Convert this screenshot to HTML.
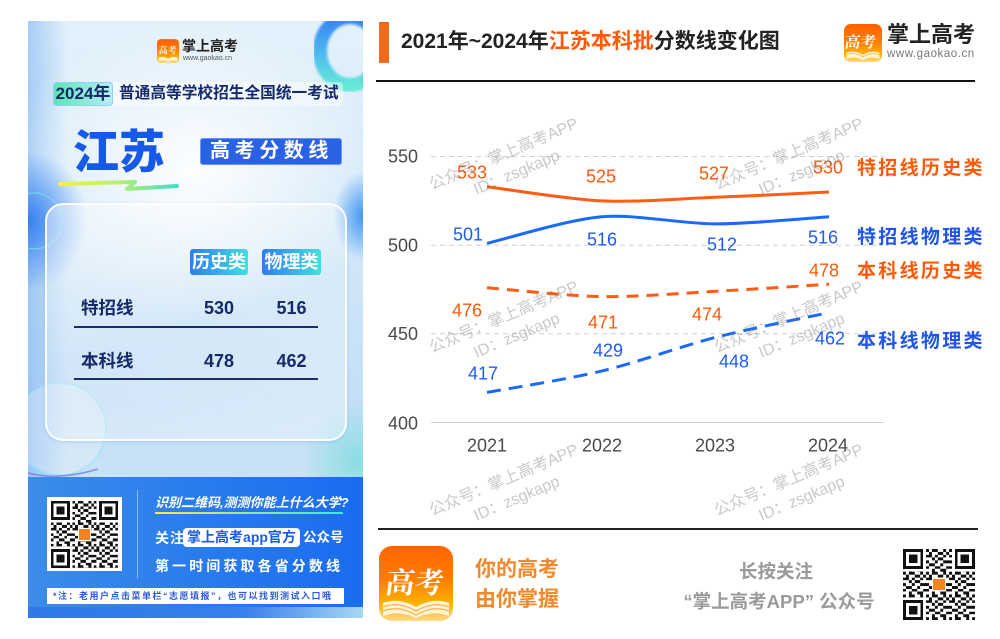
<!DOCTYPE html>
<html><head><meta charset="utf-8">
<style>
*{margin:0;padding:0;box-sizing:border-box}
body{width:1000px;height:639px;background:#fff;position:relative;overflow:hidden;font-family:"Liberation Sans","Noto Sans CJK SC",sans-serif}
.a{position:absolute;white-space:nowrap}
.panel{position:absolute;left:28px;top:21px;width:335px;height:597px;overflow:hidden;
background:
radial-gradient(ellipse 60px 70px at 0px 200px, rgba(40,120,240,0.9), rgba(40,120,240,0) 100%),
radial-gradient(ellipse 30px 45px at 335px 195px, rgba(50,140,245,0.9), rgba(50,140,245,0) 100%),
radial-gradient(ellipse 55px 60px at 330px 440px, rgba(90,220,210,0.55), rgba(90,220,210,0) 100%),
radial-gradient(ellipse 190px 150px at 165px 150px, rgba(255,255,255,0.95), rgba(255,255,255,0) 100%),
linear-gradient(90deg, rgba(110,170,240,0.5) 0px, rgba(110,170,240,0) 40px),
linear-gradient(180deg,#e3f1fb 0%,#d2e8f8 35%,#c4def6 65%,#d0e9f6 100%);}
.t{font-weight:bold;color:#16296a}
</style></head><body>

<div class="panel">
<svg width="335" height="597" style="position:absolute;left:0;top:0">
<defs>
<linearGradient id="rg" x1="0" y1="0" x2="0" y2="1"><stop offset="0" stop-color="#2f7cf0"/><stop offset="0.55" stop-color="#45b8f2"/><stop offset="1" stop-color="#5ee8d6"/></linearGradient>
<filter id="bl"><feGaussianBlur stdDeviation="1.2"/></filter>
</defs>
<ellipse cx="322" cy="30" rx="30" ry="34" fill="none" stroke="url(#rg)" stroke-width="14" opacity="0.95" filter="url(#bl)"/>
<circle cx="32" cy="408" r="46" fill="rgba(255,255,255,0.25)" stroke="rgba(150,230,240,0.7)" stroke-width="1.5"/>
<path d="M0 452 Q30 460 70 448" fill="none" stroke="#6a6ae8" stroke-width="1.5" opacity="0.7"/>
<circle cx="6" cy="200" r="28" fill="none" stroke="rgba(120,230,240,0.7)" stroke-width="1.2"/>
</svg>
</div>

<!-- left logo -->
<svg class="a" style="left:157px;top:39px" width="22" height="24" viewBox="0 0 74 80">
<defs><linearGradient id="ig1" x1="0" y1="0" x2="0" y2="1"><stop offset="0" stop-color="#ff6000"/><stop offset="0.5" stop-color="#ff8000"/><stop offset="0.85" stop-color="#ffb800"/><stop offset="1" stop-color="#ffd98a"/></linearGradient></defs>
<rect width="74" height="80" rx="13" fill="url(#ig1)"/>
<text x="6" y="48" font-family="Noto Serif CJK SC,serif" font-weight="bold" font-size="30" fill="#fff">高考</text>
<path d="M5 62 Q20 56 37 66 Q54 56 69 62 L69 74 Q54 68 37 76 Q20 68 5 74 Z" fill="#fff4d8"/>
</svg>
<div class="a" style="left:182px;top:39px;font-size:14px;line-height:15px;font-weight:bold;color:#1e1e1e">掌上高考</div>
<div class="a" style="left:183px;top:55px;font-size:7px;line-height:7px;color:#555">www.gaokao.cn</div>

<!-- 2024 badge -->
<div class="a" style="left:113px;top:82px;width:230px;height:24px;background:rgba(255,255,255,0.45);border-radius:0 4px 4px 0"></div>
<div class="a t" style="left:53px;top:82px;width:60px;height:24px;border:1px solid #8fd3f0;border-radius:4px;background:linear-gradient(90deg,#5ce6b6,#b8ecf8);font-size:17px;line-height:22px;text-align:center">2024年</div>
<div class="a t" style="left:119px;top:86px;font-size:15.7px;line-height:16px">普通高等学校招生全国统一考试</div>

<!-- 江苏 -->
<div class="a" style="left:73px;top:129px;font-size:46px;line-height:46px;font-weight:900;color:#1658e8">江苏</div>
<svg class="a" style="left:55px;top:176px" width="130" height="20">
<defs><linearGradient id="sw" x1="0" x2="1"><stop offset="0" stop-color="#f2f040"/><stop offset="0.5" stop-color="#b8f070"/><stop offset="1" stop-color="#40e0c8"/></linearGradient></defs>
<path d="M5 8 L80 6 L72 13 L122 10" fill="none" stroke="url(#sw)" stroke-width="4" stroke-linejoin="round" stroke-linecap="round"/>
</svg>
<div class="a" style="left:200px;top:138px;width:142px;height:27px;background:#2a62e6;border:1px solid #6d95f0;border-radius:3px"></div>
<div class="a" style="left:210px;top:141px;font-size:20px;line-height:21px;font-weight:bold;color:#fff;letter-spacing:4.6px">高考分数线</div>

<!-- card -->
<div class="a" style="left:45px;top:203px;width:302px;height:238px;border:2px solid rgba(255,255,255,0.92);border-radius:18px;background:linear-gradient(160deg,rgba(255,255,255,0.45),rgba(255,255,255,0.2) 50%,rgba(255,255,255,0.4));box-shadow:0 1px 3px rgba(80,140,220,0.25)"></div>
<div class="a" style="left:190px;top:249px;width:58px;height:26px;border-radius:3px;background:linear-gradient(90deg,#2f7cf2,#40e0e0);color:#fff;font-weight:bold;font-size:18px;line-height:26px;text-align:center">历史类</div>
<div class="a" style="left:262px;top:249px;width:59px;height:26px;border-radius:3px;background:linear-gradient(90deg,#2f7cf2,#40e0e0);color:#fff;font-weight:bold;font-size:18px;line-height:26px;text-align:center">物理类</div>

<div class="a t" style="left:81px;top:299px;font-size:17.5px;line-height:18px">特招线</div>
<div class="a t" style="left:189px;top:299px;width:60px;text-align:center;font-size:18px;line-height:18px">530</div>
<div class="a t" style="left:262px;top:299px;width:59px;text-align:center;font-size:18px;line-height:18px">516</div>
<div class="a" style="left:74px;top:326px;width:244px;height:2px;background:#1a2c6a"></div>
<div class="a t" style="left:81px;top:352px;font-size:17.5px;line-height:18px">本科线</div>
<div class="a t" style="left:189px;top:352px;width:60px;text-align:center;font-size:18px;line-height:18px">478</div>
<div class="a t" style="left:262px;top:352px;width:59px;text-align:center;font-size:18px;line-height:18px">462</div>
<div class="a" style="left:74px;top:378px;width:244px;height:2px;background:#1a2c6a"></div>

<!-- bottom blue -->
<div class="a" style="left:28px;top:477px;width:335px;height:131px;background:linear-gradient(90deg,#3c8ce8,#2a7cee 50%,#1a6cf0)"></div>
<div class="a" style="left:28px;top:607px;width:335px;height:11px;background:linear-gradient(90deg,#2f78e8 0%,#3a80ea 65%,#a8d8f2 100%)"></div>
<div class="a" style="left:47px;top:497px;width:75px;height:74px;background:#fff"></div>
<svg class="a" style="left:51px;top:501px" width="67" height="67" viewBox="0 0 25 25" shape-rendering="crispEdges">
<defs><pattern id="qp1" width="8" height="8" patternUnits="userSpaceOnUse"><path d="M0 0h1v1h-1z M2 0h2v1h-2z M6 0h1v1h-1z M1 1h1v1h-1z M4 1h2v1h-2z M7 1h1v1h-1z M0 2h2v1h-2z M3 2h1v1h-1z M6 2h1v1h-1z M2 3h1v1h-1z M4 3h2v1h-2z M0 4h1v1h-1z M3 4h1v1h-1z M6 4h2v1h-2z M1 5h2v1h-2z M5 5h1v1h-1z M0 6h1v1h-1z M3 6h2v1h-2z M7 6h1v1h-1z M2 7h1v1h-1z M5 7h2v1h-2z" fill="#111"/></pattern></defs>
<rect width="25" height="25" fill="#fff"/><rect width="25" height="25" fill="url(#qp1)"/>
<rect x="0" y="0" width="8" height="8" fill="#fff"/><rect x="0" y="0" width="7" height="7" fill="#111"/><rect x="1" y="1" width="5" height="5" fill="#fff"/><rect x="2" y="2" width="3" height="3" fill="#111"/>
<rect x="17" y="0" width="8" height="8" fill="#fff"/><rect x="18" y="0" width="7" height="7" fill="#111"/><rect x="19" y="1" width="5" height="5" fill="#fff"/><rect x="20" y="2" width="3" height="3" fill="#111"/>
<rect x="0" y="17" width="8" height="8" fill="#fff"/><rect x="0" y="18" width="7" height="7" fill="#111"/><rect x="1" y="19" width="5" height="5" fill="#fff"/><rect x="2" y="20" width="3" height="3" fill="#111"/>
<rect x="10" y="10" width="5" height="5" fill="#fff"/><rect x="10.5" y="10.5" width="4" height="4" fill="#f58220"/>
</svg>
<div class="a" style="left:137px;top:490px;width:1px;height:88px;background:rgba(255,255,255,0.45)"></div>
<div class="a" style="left:155px;top:496px;font-size:13px;line-height:14px;font-weight:bold;font-style:italic;color:#fff">识别二维码,测测你能上什么大学?</div>
<div class="a" style="left:155px;top:512px;width:188px;height:2px;background:linear-gradient(90deg,#f0f040,#40e8d0)"></div>
<div class="a" style="left:155px;top:531px;font-size:14px;line-height:14px;font-weight:bold;color:#fff;letter-spacing:1px">关注</div>
<div class="a" style="left:183px;top:528px;width:117px;height:19px;background:#fff;border-radius:4px;font-size:14px;line-height:19px;font-weight:bold;color:#1a5ce8;text-align:center">掌上高考app官方</div>
<div class="a" style="left:303px;top:531px;font-size:13.5px;line-height:14px;font-weight:bold;color:#fff">公众号</div>
<div class="a" style="left:155px;top:559px;font-size:14px;line-height:14px;font-weight:bold;color:#fff;letter-spacing:3.1px">第一时间获取各省分数线</div>
<div class="a" style="left:47px;top:588px;width:297px;height:16px;background:#fff"></div>
<div class="a" style="left:53px;top:591px;font-size:9px;line-height:10px;color:#2c5bd6;letter-spacing:1.5px;font-weight:bold">*注：老用户点击菜单栏“志愿填报”，也可以找到测试入口哦</div>

<!-- header -->
<div class="a" style="left:379px;top:22px;width:10px;height:41px;background:#f06a1c"></div>
<div class="a" style="left:401px;top:31px;font-size:21px;line-height:22px;font-weight:bold;color:#222">2021年~2024年<span style="color:#ff5a0a">江苏本科批</span>分数线变化图</div>
<div class="a" style="left:376px;top:80px;width:599px;height:2px;background:#111"></div>
<svg class="a" style="left:844px;top:24px" width="38" height="38" viewBox="0 0 74 74">
<defs><linearGradient id="ig2" x1="0" y1="0" x2="0" y2="1"><stop offset="0" stop-color="#ff6000"/><stop offset="0.5" stop-color="#ff8000"/><stop offset="0.82" stop-color="#ffb800"/><stop offset="1" stop-color="#ffd98a"/></linearGradient></defs>
<rect width="74" height="74" rx="13" fill="url(#ig2)"/>
<text x="7" y="46" font-family="Noto Serif CJK SC,serif" font-weight="bold" font-size="30" fill="#fff" transform="skewX(-8)">高考</text>
<path d="M5 56 Q20 50 37 60 Q54 50 69 56 L69 68 Q54 62 37 70 Q20 62 5 68 Z" fill="#fff4d8"/>
<path d="M5 60 Q20 54 37 64 Q54 54 69 60" fill="none" stroke="#ffb040" stroke-width="1.5"/>
</svg>
<div class="a" style="left:887px;top:24px;font-size:22px;line-height:22px;font-weight:bold;color:#222">掌上高考</div>
<div class="a" style="left:887px;top:48px;font-size:11.5px;line-height:12px;color:#777;letter-spacing:0.55px">www.gaokao.cn</div>

<!-- chart -->
<svg class="a" style="left:0;top:0" width="1000" height="639">
<g stroke="#d0d0d0" stroke-width="1">
<line x1="431" y1="156.5" x2="884" y2="156.5" stroke-dasharray="5 4"/>
<line x1="431" y1="245.2" x2="884" y2="245.2" stroke-dasharray="5 4"/>
<line x1="431" y1="333.8" x2="884" y2="333.8" stroke-dasharray="5 4"/>
<line x1="431" y1="422.5" x2="884" y2="422.5"/>
</g>
<g font-family="Liberation Sans,sans-serif" font-size="18" fill="#4a4a4a">
<text x="418" y="162.5" text-anchor="end">550</text>
<text x="418" y="251.5" text-anchor="end">500</text>
<text x="418" y="340" text-anchor="end">450</text>
<text x="418" y="429.5" text-anchor="end">400</text>
<text x="487" y="451.5" text-anchor="middle">2021</text>
<text x="602" y="451.5" text-anchor="middle">2022</text>
<text x="715" y="451.5" text-anchor="middle">2023</text>
<text x="828" y="451.5" text-anchor="middle">2024</text>
</g>
<g fill="none" stroke-width="3" stroke-linecap="butt" stroke-linejoin="round">
<path d="M487 186.7 C504.2 188.8 567.2 199.3 601.5 200.9 C635.8 202.5 681.4 198.6 715.5 197.3 C749.6 196 812.1 192.8 829 192" stroke="#ff5c14"/>
<path d="M487 243.4 C504.2 239.4 567.2 219.7 601.5 216.8 C635.8 213.9 681.4 223.9 715.5 223.9 C749.6 223.9 812.1 217.9 829 216.8" stroke="#1a6aff"/>
<path d="M487 287.7 C504.2 289 567.2 296.1 601.5 296.6 C635.8 297.1 681.4 293.2 715.5 291.3 C749.6 289.4 812.1 285.3 829 284.2" stroke="#ff5c14" stroke-dasharray="12 8"/>
<path d="M487 392.4 C504.2 389.2 567.2 379.4 601.5 371.1 C635.8 362.9 681.4 346.2 715.5 337.4 C749.6 328.6 812.1 316.3 829 312.6" stroke="#1a6aff" stroke-dasharray="14 8"/>
</g>
<g font-family="Liberation Sans,sans-serif" font-size="18" text-anchor="middle">
<g fill="#ff5a0a">
<text x="472" y="178.5">533</text><text x="601" y="182.5">525</text><text x="714" y="179.5">527</text><text x="828" y="173.5">530</text>
<text x="467" y="316.5">476</text><text x="603" y="328.5">471</text><text x="707" y="320.5">474</text><text x="824" y="276.5">478</text>
</g>
<g fill="#1d5cf5">
<text x="468" y="240.5">501</text><text x="602" y="245.5">516</text><text x="722" y="250.5">512</text><text x="823" y="243.5">516</text>
<text x="483" y="379.5">417</text><text x="608" y="356.5">429</text><text x="734" y="367.5">448</text><text x="830" y="344.5">462</text>
</g>
</g>
<g font-size="19" font-weight="bold" letter-spacing="2.3" font-family="Liberation Sans,Noto Sans CJK SC,sans-serif">
<text x="857" y="174" fill="#ff5a0a">特招线历史类</text>
<text x="857" y="243" fill="#1f55e8">特招线物理类</text>
<text x="857" y="277" fill="#ff5a0a">本科线历史类</text>
<text x="857" y="347" fill="#1f55e8">本科线物理类</text>
</g>
<g font-size="16" fill="rgba(110,110,110,0.38)" font-family="Liberation Sans,Noto Sans CJK SC,sans-serif">
<g transform="translate(432,190) rotate(-23)"><text x="0" y="0">公众号：掌上高考APP</text><text x="39" y="22">ID：zsgkapp</text></g>
<g transform="translate(717,190) rotate(-23)"><text x="0" y="0">公众号：掌上高考APP</text><text x="39" y="22">ID：zsgkapp</text></g>
<g transform="translate(432,353) rotate(-23)"><text x="0" y="0">公众号：掌上高考APP</text><text x="39" y="22">ID：zsgkapp</text></g>
<g transform="translate(717,353) rotate(-23)"><text x="0" y="0">公众号：掌上高考APP</text><text x="39" y="22">ID：zsgkapp</text></g>
<g transform="translate(432,516) rotate(-23)"><text x="0" y="0">公众号：掌上高考APP</text><text x="39" y="22">ID：zsgkapp</text></g>
<g transform="translate(717,516) rotate(-23)"><text x="0" y="0">公众号：掌上高考APP</text><text x="39" y="22">ID：zsgkapp</text></g>
</g>
</svg>

<!-- footer -->
<div class="a" style="left:378px;top:528px;width:600px;height:2px;background:#222"></div>
<svg class="a" style="left:379px;top:546px" width="74" height="75" viewBox="0 0 74 75">
<defs><linearGradient id="ig3" x1="0" y1="0" x2="0" y2="1"><stop offset="0" stop-color="#ff6400"/><stop offset="0.45" stop-color="#ff7e00"/><stop offset="0.78" stop-color="#ffb400"/><stop offset="1" stop-color="#ffd98a"/></linearGradient></defs>
<rect width="74" height="75" rx="13" fill="url(#ig3)"/>
<text x="12" y="47" font-family="Noto Serif CJK SC,serif" font-weight="bold" font-size="29" fill="#fff" transform="skewX(-8)">高考</text>
<path d="M4 57 Q20 51 37 61 Q54 51 70 57 L70 70 Q54 64 37 72 Q20 64 4 70 Z" fill="#fff4d8"/>
<path d="M4 61 Q20 55 37 65 Q54 55 70 61 M4 65 Q20 59 37 69 Q54 59 70 65" fill="none" stroke="#ffb040" stroke-width="1.2"/>
</svg>
<div class="a" style="left:475px;top:559px;font-size:21px;line-height:22px;font-weight:bold;color:#ef8a2e">你的高考</div>
<div class="a" style="left:475px;top:589px;font-size:21px;line-height:22px;font-weight:bold;color:#ef8a2e">由你掌握</div>
<div class="a" style="left:676px;top:562px;width:200px;text-align:center;font-size:18.5px;line-height:20px;font-weight:bold;color:#9a9a9a">长按关注</div>
<div class="a" style="left:676px;top:592px;width:206px;text-align:center;font-size:18.5px;line-height:20px;font-weight:bold;color:#9a9a9a">“掌上高考APP” 公众号</div>
<svg class="a" style="left:903px;top:549px" width="72" height="71" viewBox="0 0 25 25" preserveAspectRatio="none" shape-rendering="crispEdges">
<defs><pattern id="qp2" width="8" height="8" patternUnits="userSpaceOnUse"><path d="M0 0h1v1h-1z M2 0h2v1h-2z M6 0h1v1h-1z M1 1h1v1h-1z M4 1h2v1h-2z M7 1h1v1h-1z M0 2h2v1h-2z M3 2h1v1h-1z M6 2h1v1h-1z M2 3h1v1h-1z M4 3h2v1h-2z M0 4h1v1h-1z M3 4h1v1h-1z M6 4h2v1h-2z M1 5h2v1h-2z M5 5h1v1h-1z M0 6h1v1h-1z M3 6h2v1h-2z M7 6h1v1h-1z M2 7h1v1h-1z M5 7h2v1h-2z" fill="#111"/></pattern></defs>
<rect width="25" height="25" fill="#fff"/><rect width="25" height="25" fill="url(#qp2)"/>
<rect x="0" y="0" width="8" height="8" fill="#fff"/><rect x="0" y="0" width="7" height="7" fill="#111"/><rect x="1" y="1" width="5" height="5" fill="#fff"/><rect x="2" y="2" width="3" height="3" fill="#111"/>
<rect x="17" y="0" width="8" height="8" fill="#fff"/><rect x="18" y="0" width="7" height="7" fill="#111"/><rect x="19" y="1" width="5" height="5" fill="#fff"/><rect x="20" y="2" width="3" height="3" fill="#111"/>
<rect x="0" y="17" width="8" height="8" fill="#fff"/><rect x="0" y="18" width="7" height="7" fill="#111"/><rect x="1" y="19" width="5" height="5" fill="#fff"/><rect x="2" y="20" width="3" height="3" fill="#111"/>
<rect x="10" y="10" width="5" height="5" fill="#fff"/><rect x="10.5" y="10.5" width="4" height="4" fill="#f58220"/>
</svg>

</body></html>
